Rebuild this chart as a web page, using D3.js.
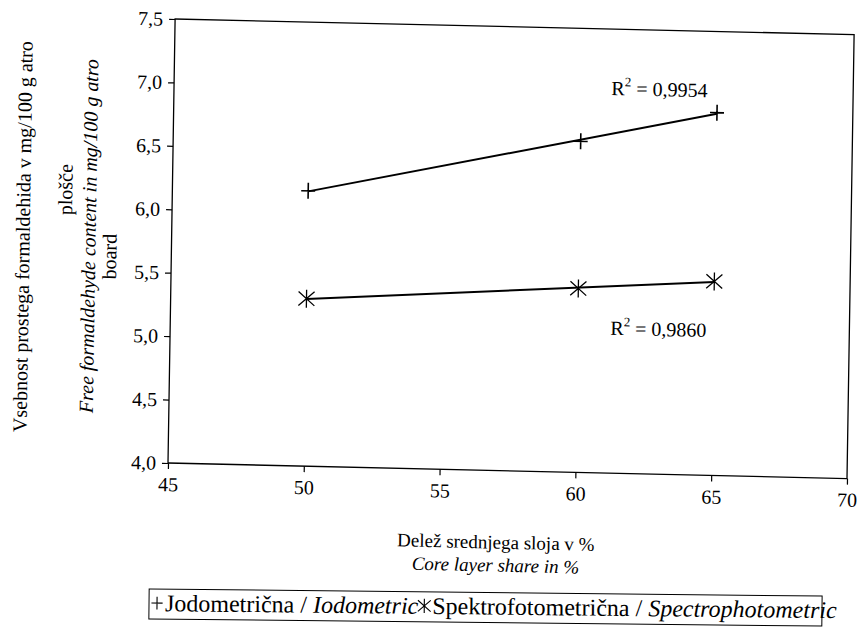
<!DOCTYPE html>
<html>
<head>
<meta charset="utf-8">
<script src="https://cdn.jsdelivr.net/npm/d3@7/dist/d3.min.js"></script>
<style>
body{margin:0;background:#fff;}
</style>
</head>
<body>
<div id="chart"></div>
<script>
// -----------------------------------------
//DATA
// -----------------------------------------
var coreShare = [50, 60, 65]; //core layer share in %
var iodometric = [6.17, 6.61, 6.86]; //Jodometrična
var spectro = [5.32, 5.45, 5.53]; //Spektrofotometrična
var r2Labels = ["0,9954", "0,9860"];
var xTicks = [45, 50, 55, 60, 65, 70];
var yTicks = [4.0, 4.5, 5.0, 5.5, 6.0, 6.5, 7.0, 7.5];

// -----------------------------------------
//FORMAT VARIABLES
// -----------------------------------------
var W = 861, H = 630;
var mLeft = 168, mTop = 19, pw = 679, ph = 444;
var fontF = "'Liberation Serif', 'Times New Roman', serif";
var slopeH = 0.023; //the scan is a bit crooked: horizontals drop to the right
var slopeV = 0.016; //and verticals lean right

var comma = d3.formatLocale({decimal: ",", thousands: ".", grouping: [3], currency: ["", ""]});
var fmt = comma.format(".1f");

var x = d3.scaleLinear().domain([45, 70]).range([mLeft, mLeft + pw]);
var y = d3.scaleLinear().domain([4, 7.5]).range([mTop + ph, mTop]);

var svg = d3.select("#chart").append("svg")
  .attr("width", W)
  .attr("height", H)
  .style("font-family", fontF);

var px = mLeft, py = mTop + ph;
var g = svg.append("g")
  .attr("transform", "translate(" + px + "," + py + ") matrix(1," + slopeH + "," + (-slopeV) + ",1,0,0) translate(" + (-px) + "," + (-py) + ")");

//PLOT BORDER
g.append("rect")
  .attr("x", mLeft).attr("y", mTop)
  .attr("width", pw).attr("height", ph)
  .style("fill", "none")
  .style("stroke", "black")
  .style("stroke-width", 1.3);

//AXES
var xAxis = g.append("g")
  .attr("transform", "translate(0," + (mTop + ph) + ")")
  .call(d3.axisBottom(x).tickValues(xTicks).tickSize(6).tickPadding(8).tickFormat(d3.format("d")));
var yAxis = g.append("g")
  .attr("transform", "translate(" + mLeft + ",0)")
  .call(d3.axisLeft(y).tickValues(yTicks).tickSize(6).tickPadding(6).tickFormat(fmt));

[xAxis, yAxis].forEach(function(a){
  a.select(".domain").remove();
  a.selectAll("line").style("stroke", "black").style("stroke-width", 1.2);
  a.selectAll("text").style("font-family", fontF).style("font-size", "20px").style("fill", "black");
});

//TRENDLINES
function fit(xs, ys){
  var mx = d3.mean(xs), my = d3.mean(ys);
  var sxy = d3.sum(xs, function(v, i){ return (v - mx) * (ys[i] - my); });
  var sxx = d3.sum(xs, function(v){ return (v - mx) * (v - mx); });
  var b = sxy / sxx;
  return function(v){ return my + b * (v - mx); };
}

var series = [iodometric, spectro];
series.forEach(function(vals){
  var f = fit(coreShare, vals);
  var ends = d3.extent(coreShare);
  g.append("line")
    .attr("x1", x(ends[0])).attr("y1", y(f(ends[0])))
    .attr("x2", x(ends[1])).attr("y2", y(f(ends[1])))
    .style("stroke", "black")
    .style("stroke-width", 2);
});

//MARKERS
var plusPath = "M-7,0H7M0,-8V8";
var starPath = "M-8,-7L8,7M-8,7L8,-7M0,-9V9";

g.selectAll(".plus").data(coreShare).enter().append("path")
  .attr("class", "plus")
  .attr("transform", function(d, i){ return "translate(" + x(d) + "," + y(iodometric[i]) + ")"; })
  .attr("d", plusPath)
  .style("stroke", "black").style("stroke-width", 1.6).style("fill", "none");

g.selectAll(".star").data(coreShare).enter().append("path")
  .attr("class", "star")
  .attr("transform", function(d, i){ return "translate(" + x(d) + "," + y(spectro[i]) + ")"; })
  .attr("d", starPath)
  .style("stroke", "black").style("stroke-width", 1.3).style("fill", "none");

//R2 LABELS
var r2Pos = [[61.1, 6.98], [61.2, 5.09]];
r2Labels.forEach(function(lab, i){
  var t = g.append("text")
    .attr("x", x(r2Pos[i][0])).attr("y", y(r2Pos[i][1]))
    .style("font-size", "20px");
  t.append("tspan").text("R");
  t.append("tspan").attr("dy", -9).style("font-size", "13px").text("2");
  t.append("tspan").attr("dy", 9).text(" = " + lab);
});

//AXIS TITLES
var yTitle = [
  {t: "Vsebnost prostega formaldehida v mg/100 g atro", cx: 19, cy: 240, it: false},
  {t: "plošče", cx: 61, cy: 192, it: false},
  {t: "Free formaldehyde content in mg/100 g atro", cx: 85, cy: 238, it: true},
  {t: "board", cx: 106, cy: 258, it: false}
];
yTitle.forEach(function(d){
  g.append("text")
    .attr("transform", "translate(" + d.cx + "," + d.cy + ") rotate(-90)")
    .attr("text-anchor", "middle")
    .attr("dy", "0.35em")
    .style("font-size", "20px")
    .style("font-style", d.it ? "italic" : "normal")
    .text(d.t);
});

g.append("text")
  .attr("x", 497).attr("y", 541)
  .attr("text-anchor", "middle")
  .style("font-size", "19px")
  .text("Delež srednjega sloja v %");
g.append("text")
  .attr("x", 497).attr("y", 564)
  .attr("text-anchor", "middle")
  .style("font-size", "19px")
  .style("font-style", "italic")
  .text("Core layer share in %");

// -----------------------------------------
//LEGEND
// -----------------------------------------
var legItems = [
  {m: plusPath, a: "Jodometrična / ", b: "Iodometric"},
  {m: starPath, a: " Spektrofotometrična / ", b: "Spectrophotometric"}
];
var lx = 151, ly = 611;
var leg = svg.append("g")
  .attr("transform", "rotate(0.6,149,605)");
legItems.forEach(function(d){
  leg.append("path")
    .attr("transform", "translate(" + (lx + 6) + "," + (ly - 8) + ") scale(0.8)")
    .attr("d", d.m)
    .style("stroke", "black").style("stroke-width", 1.4).style("fill", "none");
  lx += 14;
  var t = leg.append("text").attr("x", lx).attr("y", ly).style("font-size", "24px");
  t.append("tspan").text(d.a);
  t.append("tspan").style("font-style", "italic").text(d.b);
  lx += t.node().getComputedTextLength();
});
leg.insert("rect", ":first-child")
  .attr("x", 149).attr("y", ly - 22)
  .attr("width", 673).attr("height", 30)
  .style("fill", "none").style("stroke", "black").style("stroke-width", 1);
</script>
</body>
</html>
